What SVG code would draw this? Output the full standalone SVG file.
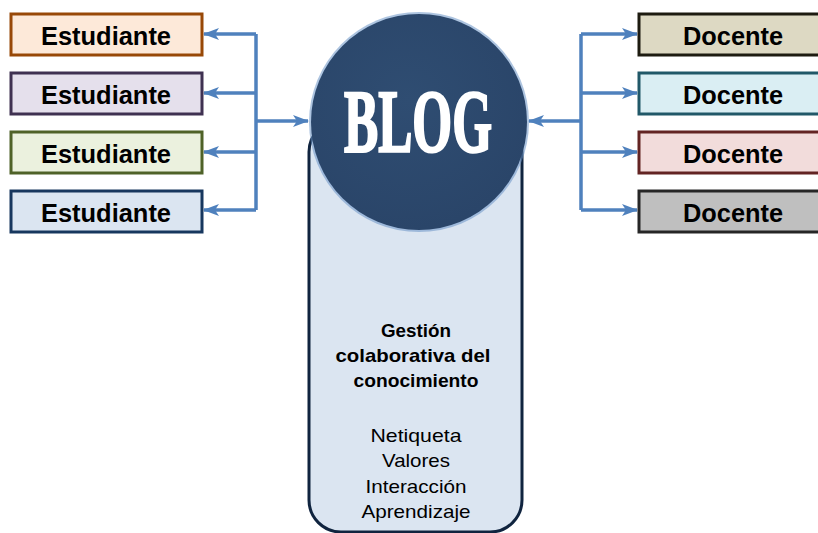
<svg xmlns="http://www.w3.org/2000/svg" width="818" height="533" viewBox="0 0 818 533">
<style>
.box{stroke-width:3}
.lbl{font-family:"Liberation Sans",Arial,sans-serif;font-weight:bold;font-size:25px;fill:#000;text-anchor:middle}
.con{fill:none;stroke:#4f81bd;stroke-width:3.5}
.bt{font-family:"Liberation Sans",Arial,sans-serif;font-size:18.5px;fill:#000;text-anchor:middle}
.bb{font-weight:bold}
</style>
<defs>
<marker id="ah" viewBox="0 0 16 12" refX="15" refY="6" markerWidth="16" markerHeight="12" markerUnits="userSpaceOnUse" orient="auto">
<path d="M0,0 L16,6 L0,12 L4,6 Z" fill="#4f81bd"/>
</marker>
<radialGradient id="cg" cx="0.45" cy="0.4" r="0.6">
<stop offset="0" stop-color="#2f4d72"/>
<stop offset="1" stop-color="#2a4569"/>
</radialGradient>
</defs>
<rect width="818" height="533" fill="#fff"/>
<g id="connectors">
<path class="con" d="M256,34 V210"/>
<path class="con" d="M256,34 H204" marker-end="url(#ah)"/>
<path class="con" d="M256,93 H204" marker-end="url(#ah)"/>
<path class="con" d="M256,152 H204" marker-end="url(#ah)"/>
<path class="con" d="M256,210 H204" marker-end="url(#ah)"/>
<path class="con" d="M256,121 H308" marker-end="url(#ah)"/>
<path class="con" d="M581,34 V210"/>
<path class="con" d="M581,34 H637" marker-end="url(#ah)"/>
<path class="con" d="M581,93 H637" marker-end="url(#ah)"/>
<path class="con" d="M581,152 H637" marker-end="url(#ah)"/>
<path class="con" d="M581,210 H637" marker-end="url(#ah)"/>
<path class="con" d="M581,121 H529" marker-end="url(#ah)"/>
</g>
<g id="est1"><rect class="box" x="11" y="14" width="191" height="41" fill="#fde9d9" stroke="#984807"/><text class="lbl" x="106" y="45" textLength="130" lengthAdjust="spacingAndGlyphs">Estudiante</text></g>
<g id="est2"><rect class="box" x="11" y="73" width="191" height="41" fill="#e5e0ec" stroke="#3f3151"/><text class="lbl" x="106" y="104" textLength="130" lengthAdjust="spacingAndGlyphs">Estudiante</text></g>
<g id="est3"><rect class="box" x="11" y="132" width="191" height="41" fill="#ebf1de" stroke="#4f6228"/><text class="lbl" x="106" y="163" textLength="130" lengthAdjust="spacingAndGlyphs">Estudiante</text></g>
<g id="est4"><rect class="box" x="11" y="191" width="191" height="41" fill="#dbe5f1" stroke="#17375e"/><text class="lbl" x="106" y="222" textLength="130" lengthAdjust="spacingAndGlyphs">Estudiante</text></g>
<g id="doc1"><rect class="box" x="639" y="14" width="192" height="41" fill="#ddd9c3" stroke="#1d1b10"/><text class="lbl" x="733" y="45" textLength="100" lengthAdjust="spacingAndGlyphs">Docente</text></g>
<g id="doc2"><rect class="box" x="639" y="73" width="192" height="41" fill="#daeef3" stroke="#215868"/><text class="lbl" x="733" y="104" textLength="100" lengthAdjust="spacingAndGlyphs">Docente</text></g>
<g id="doc3"><rect class="box" x="639" y="132" width="192" height="41" fill="#f2dcdb" stroke="#632423"/><text class="lbl" x="733" y="163" textLength="100" lengthAdjust="spacingAndGlyphs">Docente</text></g>
<g id="doc4"><rect class="box" x="639" y="191" width="192" height="41" fill="#bfbfbf" stroke="#262626"/><text class="lbl" x="733" y="222" textLength="100" lengthAdjust="spacingAndGlyphs">Docente</text></g>
<g id="panel">
<rect x="309" y="120" width="213" height="412" rx="32" fill="#dbe5f1" stroke="#10243f" stroke-width="3"/>
<text class="bt bb" x="416" y="337" textLength="70" lengthAdjust="spacingAndGlyphs">Gestión</text>
<text class="bt bb" x="413" y="362" textLength="155" lengthAdjust="spacingAndGlyphs">colaborativa del</text>
<text class="bt bb" x="416" y="387" textLength="125" lengthAdjust="spacingAndGlyphs">conocimiento</text>
<text class="bt" x="416" y="442" textLength="91" lengthAdjust="spacingAndGlyphs">Netiqueta</text>
<text class="bt" x="416" y="467" textLength="68" lengthAdjust="spacingAndGlyphs">Valores</text>
<text class="bt" x="416" y="493" textLength="101" lengthAdjust="spacingAndGlyphs">Interacción</text>
<text class="bt" x="416" y="518" textLength="109" lengthAdjust="spacingAndGlyphs">Aprendizaje</text>
</g>
<g id="blog">
<circle cx="419" cy="122" r="110" fill="#6a93c6" opacity="0.55"/>
<circle cx="419" cy="122" r="108" fill="url(#cg)"/>
<text x="418" y="151" font-family="'Liberation Serif','DejaVu Serif',serif" font-weight="bold" font-size="88" fill="#fff" stroke="#fff" stroke-width="2.5" text-anchor="middle" textLength="148" lengthAdjust="spacingAndGlyphs">BLOG</text>
</g>
</svg>
